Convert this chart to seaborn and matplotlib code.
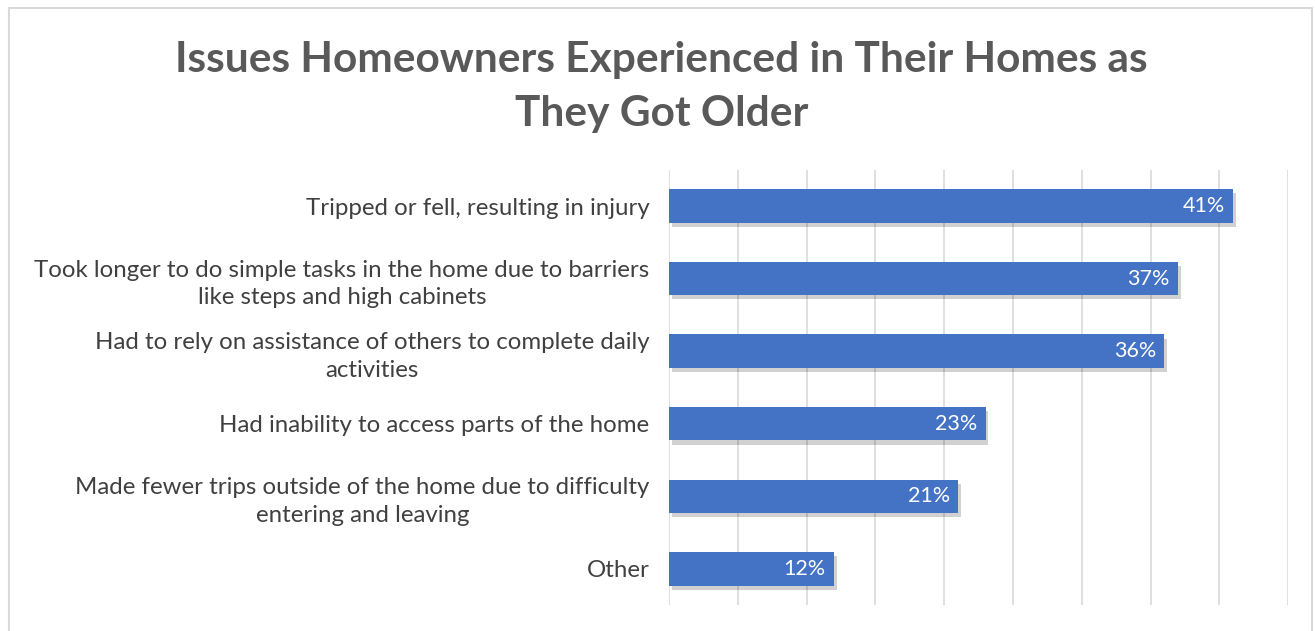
import matplotlib
matplotlib.use("Agg")
import matplotlib.pyplot as plt
import matplotlib.patheffects as pe
import seaborn as sns
import pandas as pd

# data
issues = [
    "Tripped or fell, resulting in injury",
    "Took longer to do simple tasks in the home due to barriers\nlike steps and high cabinets",
    "Had to rely on assistance of others to complete daily\nactivities",
    "Had inability to access parts of the home",
    "Made fewer trips outside of the home due to difficulty\nentering and leaving",
    "Other",
]
pct = [41, 37, 36, 23, 21, 12]

df = pd.DataFrame({"issue": issues, "pct": pct})

sns.set_theme(style="white")
plt.rcParams["font.family"] = ["Lato", "DejaVu Sans"]

fig = plt.figure(figsize=(13.15, 6.31), dpi=100)
ax = fig.add_axes([0.5087, 0.041, 0.471, 0.690])

sns.barplot(data=df, x="pct", y="issue", color="#4472C4", saturation=1,
            width=0.46, ax=ax, zorder=3, edgecolor="none", linewidth=0)

for bar in ax.patches:
    bar.set_path_effects([pe.SimplePatchShadow(offset=(2, -3), shadow_rgbFace="#000000", alpha=0.18),
                          pe.Normal()])

for i, v in enumerate(pct):
    ax.text(v - 0.6, i, f"{v}%", ha="right", va="center", color="white",
            fontsize=15.5, fontweight="normal", zorder=6)

ax.set_xlim(0, 45)
ax.set_xticks(range(0, 46, 5))
ax.xaxis.grid(True, color="#d9d9d9", linewidth=1.2, zorder=0)
ax.set_xticklabels([])
ax.tick_params(axis="x", length=0)
ax.tick_params(axis="y", length=0, labelsize=17.3, labelcolor="#404040", pad=14)
for lab in ax.get_yticklabels():
    lab.set_horizontalalignment("right")
    lab.set_multialignment("center")
    lab.set_linespacing(1.4)
ax.set_xlabel("")
ax.set_ylabel("")
for s in ax.spines.values():
    s.set_visible(False)

fig.text(0.503, 0.862, "Issues Homeowners Experienced in Their Homes as\nThey Got Older",
         ha="center", va="center", fontsize=30.5, fontweight="bold", color="#595959",
         linespacing=1.5)

# light frame around the chart
fig.add_artist(plt.Rectangle((0.007, -0.01), 0.991, 0.997, transform=fig.transFigure,
                             fill=False, edgecolor="#d9d9d9", linewidth=1.5))

fig.savefig("out.png", dpi=100)
